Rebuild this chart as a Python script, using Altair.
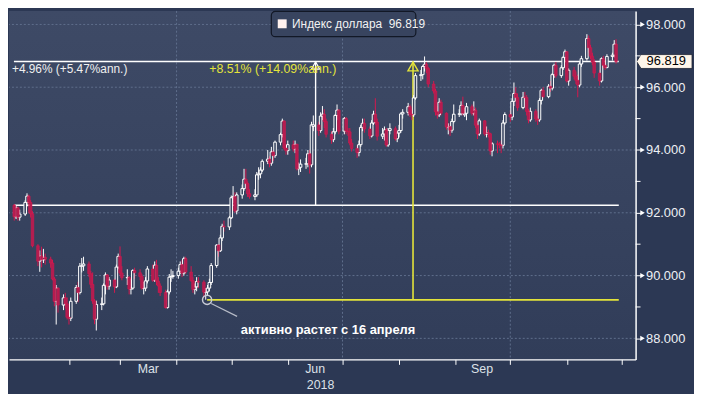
import altair as alt
import pandas as pd

# ---------------- data (US Dollar Index, daily OHLC, 2018) ----------------
opens = [
    92.24, 91.87, 92.16, 91.86, 91.96, 92.33, 92.53, 92.33, 91.97, 90.95, 90.46, 90.62, 90.50, 90.58, 90.52, 90.40, 89.89, 89.18, 89.60, 89.06, 89.29, 89.10,  # Jan
    88.67, 88.64, 89.18, 89.62, 89.46, 90.30, 90.31, 90.37, 90.06, 89.72, 89.19, 88.61, 89.08, 89.10, 89.69, 90.02, 89.66, 89.86, 89.64, 90.27,  # Feb
    90.61, 90.08, 89.93, 89.94, 89.57, 89.60, 90.16, 90.09, 89.97, 89.60, 89.60, 89.83, 90.21, 89.85, 90.33, 89.82, 89.67, 89.46, 88.98, 89.48, 89.95, 89.97,  # Mar
    90.00, 90.14, 90.35, 90.08, 90.54, 90.11, 89.84, 89.56, 89.64, 89.81, 89.79, 89.47, 89.48, 89.60, 89.78, 90.32, 90.97, 90.79, 91.20, 91.57, 91.55,  # Apr
    91.84, 92.48, 92.52, 92.06, 92.57, 92.77, 93.07, 92.93, 92.61, 92.52, 92.57, 93.21, 93.24, 93.36, 93.64, 93.71, 93.58, 93.94, 93.82, 94.25, 94.49, 94.92, 94.06,  # May
    93.98, 94.17, 94.03, 94.18, 93.40, 93.45, 93.55, 93.56, 93.88, 93.53, 94.75, 94.80, 94.62, 95.08, 95.14, 94.91, 94.50, 94.33, 94.58, 95.10, 95.27,  # Jun
    94.60, 95.00, 94.60, 94.58, 94.22, 94.05, 93.92, 94.17, 94.72, 94.85, 94.67, 94.45, 94.86, 95.14, 94.89, 94.44, 94.51, 94.64, 94.16, 94.62, 94.68, 94.36,  # Jul
    94.54, 94.62, 95.15, 95.20, 95.38, 95.14, 95.12, 95.66, 96.37, 96.40, 96.66, 96.73, 96.60, 96.10, 95.88, 95.22, 95.12, 95.52, 95.17, 94.73, 94.75, 94.63, 94.91,  # Aug
    95.14, 95.15, 95.42, 95.12, 95.17, 95.38, 95.17, 95.27, 94.79, 94.51, 94.93, 94.51, 94.55, 94.52, 93.97, 94.20, 94.18, 94.16, 94.15, 94.86,  # Sep
    95.13, 95.05, 95.55, 95.80, 95.67, 95.35, 95.68, 95.67, 95.23, 94.96, 95.23, 94.99, 94.96, 95.58, 95.90, 95.70, 96.03, 95.97, 96.40, 96.70, 96.37, 96.62, 96.95,  # Oct
    97.13, 96.20, 96.54, 96.35, 96.22, 96.07, 96.74, 96.91, 97.55, 97.26, 96.99, 96.80, 96.45, 96.20, 96.91, 96.70, 96.63, 96.98, 97.02, 97.37,  # Nov
]
highs = [
    92.28, 92.25, 92.20, 92.10, 92.40, 92.62, 92.58, 92.40, 92.05, 91.00, 90.80, 90.92, 90.85, 90.70, 90.60, 90.50, 89.95, 89.70, 89.62, 89.40, 89.45, 89.30,
    88.95, 89.30, 89.70, 89.80, 90.40, 90.56, 90.60, 90.45, 90.15, 90.10, 89.25, 89.20, 89.30, 89.75, 90.10, 90.05, 89.95, 89.90, 90.35, 90.70,
    90.93, 90.30, 90.20, 89.98, 89.90, 90.20, 90.25, 90.20, 90.05, 89.80, 89.95, 90.30, 90.35, 90.45, 90.50, 89.95, 89.75, 89.55, 89.55, 90.05, 90.20, 90.15,
    90.25, 90.45, 90.50, 90.60, 90.60, 90.30, 89.95, 89.75, 89.95, 89.95, 89.85, 89.60, 89.70, 89.90, 90.40, 91.00, 91.00, 91.30, 91.65, 91.75, 91.90,
    92.55, 92.85, 92.65, 92.65, 92.90, 93.40, 93.40, 93.00, 92.75, 92.75, 93.30, 93.45, 93.45, 93.70, 94.00, 93.80, 94.10, 94.00, 94.30, 94.55, 95.00, 94.95, 94.20,
    94.30, 94.30, 94.30, 94.20, 93.60, 93.70, 93.75, 94.00, 94.00, 94.90, 95.10, 94.90, 95.20, 95.40, 95.30, 95.00, 94.60, 94.70, 95.15, 95.45, 95.30,
    95.05, 95.05, 94.70, 94.70, 94.35, 94.15, 94.30, 94.80, 95.00, 95.00, 94.75, 94.95, 95.25, 95.65, 95.00, 94.70, 94.75, 94.70, 94.70, 94.85, 94.75, 94.60,
    94.80, 95.20, 95.30, 95.50, 95.45, 95.30, 95.75, 96.45, 96.55, 96.70, 96.98, 96.80, 96.65, 96.20, 95.95, 95.40, 95.65, 95.60, 95.20, 94.85, 94.85, 95.00, 95.45,
    95.30, 95.55, 95.70, 95.35, 95.50, 95.45, 95.55, 95.35, 94.85, 95.00, 94.95, 94.75, 94.65, 94.55, 94.25, 94.30, 94.25, 94.30, 94.95, 95.20,
    95.25, 95.65, 96.15, 96.00, 95.80, 95.85, 95.85, 95.75, 95.30, 95.35, 95.30, 95.10, 95.65, 95.95, 96.00, 96.10, 96.20, 96.45, 96.75, 96.80, 96.70, 97.00, 97.20,
    97.15, 96.60, 96.65, 96.50, 96.40, 96.80, 97.00, 97.69, 97.65, 97.35, 97.10, 96.90, 96.55, 96.95, 97.00, 96.85, 97.05, 97.10, 97.50, 97.53,
]
lows = [
    91.75, 91.80, 91.75, 91.75, 91.90, 92.20, 92.00, 91.85, 90.90, 90.30, 90.12, 90.26, 90.40, 90.35, 90.25, 89.85, 89.02, 88.44, 88.82, 88.90, 88.95, 88.60,
    88.44, 88.55, 89.10, 89.15, 89.40, 90.10, 90.15, 89.95, 89.60, 89.10, 88.45, 88.25, 88.90, 89.05, 89.40, 89.55, 89.55, 89.45, 89.60, 90.20,
    90.00, 89.85, 89.70, 89.40, 89.40, 89.55, 89.90, 89.85, 89.55, 89.40, 89.50, 89.75, 89.80, 89.80, 89.70, 89.45, 89.35, 88.95, 88.95, 89.40, 89.80, 89.90,
    89.90, 90.05, 89.95, 90.00, 90.05, 89.80, 89.45, 89.40, 89.50, 89.60, 89.30, 89.23, 89.35, 89.50, 89.70, 90.25, 90.60, 90.75, 91.10, 91.40, 91.45,
    91.80, 92.30, 92.00, 91.95, 92.45, 92.70, 92.85, 92.50, 92.45, 92.40, 92.50, 93.05, 93.10, 93.30, 93.55, 93.45, 93.50, 93.65, 93.75, 94.15, 94.40, 94.00, 93.85,
    93.85, 93.95, 93.90, 93.35, 93.20, 93.30, 93.40, 93.45, 93.25, 93.45, 94.60, 94.45, 94.55, 94.95, 94.70, 94.40, 94.20, 94.25, 94.50, 94.95, 94.50,
    94.50, 94.50, 94.45, 94.15, 93.95, 93.75, 93.80, 94.10, 94.60, 94.55, 94.35, 94.40, 94.80, 94.80, 94.30, 94.35, 94.30, 94.10, 94.10, 94.50, 94.30, 94.25,
    94.40, 94.55, 95.00, 95.10, 95.05, 94.95, 95.05, 95.60, 96.20, 96.25, 96.50, 96.45, 96.00, 95.80, 95.10, 95.00, 95.05, 95.10, 94.65, 94.50, 94.45, 94.55, 94.85,
    95.05, 95.10, 95.10, 95.05, 94.95, 95.10, 95.10, 94.70, 94.35, 94.45, 94.45, 94.40, 94.40, 93.85, 93.80, 93.90, 94.05, 93.90, 94.05, 94.80,
    94.90, 94.95, 95.40, 95.55, 95.25, 95.30, 95.55, 95.10, 94.85, 94.90, 94.90, 94.80, 94.90, 95.45, 95.65, 95.65, 95.85, 95.90, 96.30, 96.30, 96.30, 96.55, 96.80,
    96.15, 96.05, 96.25, 96.10, 95.68, 96.00, 96.65, 96.85, 97.10, 96.90, 96.70, 96.30, 96.05, 96.15, 96.60, 96.55, 96.60, 96.85, 96.95, 96.75,
]
closes = [
    91.87, 92.16, 91.86, 91.96, 92.33, 92.53, 92.33, 91.97, 90.95, 90.46, 90.62, 90.50, 90.58, 90.52, 90.40, 89.89, 89.18, 89.60, 89.06, 89.29, 89.10, 88.67,
    88.64, 89.18, 89.62, 89.46, 90.30, 90.31, 90.37, 90.06, 89.72, 89.19, 88.61, 89.08, 89.10, 89.69, 90.02, 89.66, 89.86, 89.64, 90.27, 90.61,
    90.08, 89.93, 89.94, 89.57, 89.60, 90.16, 90.09, 89.97, 89.60, 89.60, 89.83, 90.21, 89.85, 90.33, 89.82, 89.67, 89.46, 88.98, 89.48, 89.95, 89.97, 90.00,
    90.14, 90.35, 90.08, 90.54, 90.11, 89.84, 89.56, 89.64, 89.81, 89.79, 89.47, 89.48, 89.60, 89.78, 90.32, 90.97, 90.79, 91.20, 91.57, 91.55, 91.84,
    92.48, 92.52, 92.06, 92.57, 92.77, 93.07, 92.93, 92.61, 92.52, 92.57, 93.21, 93.24, 93.36, 93.64, 93.71, 93.58, 93.94, 93.82, 94.25, 94.49, 94.92, 94.06, 93.98,
    94.17, 94.03, 94.18, 93.40, 93.45, 93.55, 93.56, 93.88, 93.53, 94.80, 94.80, 94.62, 95.08, 95.14, 94.91, 94.50, 94.33, 94.58, 95.10, 95.27, 94.60,
    95.00, 94.60, 94.58, 94.22, 94.05, 93.92, 94.17, 94.72, 94.85, 94.67, 94.45, 94.86, 95.14, 94.89, 94.44, 94.51, 94.64, 94.16, 94.62, 94.68, 94.36, 94.54,
    94.62, 95.15, 95.20, 95.38, 95.14, 95.12, 95.66, 96.37, 96.40, 96.66, 96.73, 96.60, 96.10, 95.88, 95.22, 95.12, 95.52, 95.17, 94.73, 94.75, 94.63, 94.91, 95.14,
    95.15, 95.42, 95.17, 95.17, 95.38, 95.17, 95.27, 94.79, 94.51, 94.93, 94.51, 94.55, 94.52, 93.97, 94.20, 94.18, 94.16, 94.15, 94.86, 95.13,
    95.05, 95.55, 95.80, 95.67, 95.35, 95.68, 95.67, 95.23, 94.96, 95.23, 94.99, 94.96, 95.58, 95.90, 95.70, 96.03, 95.97, 96.40, 96.70, 96.37, 96.62, 96.95, 97.13,
    96.20, 96.54, 96.35, 96.22, 96.07, 96.74, 96.91, 97.55, 97.26, 96.99, 96.80, 96.45, 96.20, 96.91, 96.70, 96.63, 96.98, 97.02, 97.37, 96.819,
]

last_value = 96.819
start_level = 92.24
april_low = 89.226
y_ticks = [88, 90, 92, 94, 96, 98]
y_minor = [89, 91, 93, 95, 97]
month_labels = ["Mar", "Jun", "Sep"]
month_label_dates = ["2018-03-16T12:00:00Z", "2018-06-16T00:00:00Z", "2018-09-15T12:00:00Z"]
year_label = ["2018"]
year_label_date = ["2018-06-19T00:00:00Z"]
quarter_dates = ["2018-04-01T00:00:00Z", "2018-07-01T00:00:00Z", "2018-10-01T00:00:00Z"]
legend_text = ["Индекс доллара\u00a0 96.819"]
white_measure_text = ["+4.96% (+5.47%ann.)"]
yellow_measure_text = ["+8.51% (+14.09%ann.)"]
note_text = ["активно растет с 16 апреля"]

# ---------------- layout ----------------
W, H = 633, 352
FONT = "Liberation Sans"
BG_OUT = "#2c3854"
GRID = "#5f6e8c"
YELLOW = "#e4e43a"
RED_FILL = "#b31d50"
RED_LINE = "#d4184e"

dates = pd.bdate_range("2018-01-02", "2018-11-28")
n = min(len(dates), len(opens), len(highs), len(lows), len(closes))
df = pd.DataFrame({
    "date": dates[:n].strftime("%Y-%m-%dT00:00:00Z"),
    "o": opens[:n], "h": highs[:n], "l": lows[:n], "c": closes[:n],
})
up = df[df["c"] >= df["o"]]
dn = df[df["c"] < df["o"]]


def ms(s):
    return int(pd.Timestamp(s).value // 10**6)


DOM0 = "2018-01-01T20:00:00Z"
xscale = alt.Scale(type="utc", domain=[ms(DOM0), ms("2018-12-06T00:00:00Z")], nice=False)
yscale = alt.Scale(domain=[87.33, 98.43], zero=False, nice=False)
month_ticks = [ms(f"2018-{m:02d}-01T00:00:00Z") for m in range(2, 13)]

xaxis = alt.Axis(values=month_ticks, labels=False, ticks=True, tickColor="#ffffff",
                 tickSize=5, tickWidth=1, domainColor="#ffffff", domainWidth=1.5,
                 grid=False, title=None, zindex=2)
yaxis = alt.Axis(orient="right", values=y_ticks, format=".3f", labelFont=FONT,
                 labelFontSize=13, labelColor="#eef0f4", tickColor="#ffffff",
                 tickSize=5, tickWidth=1, labelPadding=5, domainColor="#ffffff",
                 domainWidth=1.5, grid=False, title=None, zindex=2)


def X(f):
    return alt.X(f"{f}:T", scale=xscale, axis=xaxis, title=None)


def Y(f):
    return alt.Y(f"{f}:Q", scale=yscale, axis=yaxis, title=None)


one = pd.DataFrame({"k": [0]})

bg = alt.Chart(one).mark_rect(
    fill=alt.Gradient(gradient="linear", x1=0, x2=0, y1=0, y2=1,
                      stops=[alt.GradientStop(color="#3e4a66", offset=0),
                             alt.GradientStop(color="#313d59", offset=1)])
).encode(x=alt.value(0), x2=alt.value(W), y=alt.value(0), y2=alt.value(H))

qgrid = alt.Chart(pd.DataFrame({"d": quarter_dates})).mark_rule(
    color=GRID, strokeDash=[2, 2], strokeWidth=1).encode(x=X("d"))
ygrid = alt.Chart(pd.DataFrame({"v": y_ticks})).mark_rule(
    color=GRID, strokeDash=[2, 2], strokeWidth=1).encode(y=Y("v"))

hlines = alt.Chart(pd.DataFrame({
    "x0": [DOM0, DOM0], "x1": ["2018-11-29T12:00:00Z"] * 2, "v": [start_level, last_value]
})).mark_rule(color="#ffffff", strokeWidth=1.4).encode(x=X("x0"), x2=alt.X2("x1"), y=Y("v"))

yline = alt.Chart(pd.DataFrame({
    "x0": ["2018-04-17T18:00:00Z"], "x1": ["2018-11-29T12:00:00Z"], "v": [april_low]
})).mark_rule(color=YELLOW, strokeWidth=1.6).encode(x=X("x0"), x2=alt.X2("x1"), y=Y("v"))

wvert = alt.Chart(pd.DataFrame({
    "d": ["2018-06-16T06:00:00Z"], "v0": [start_level], "v1": [last_value]
})).mark_rule(color="#ffffff", strokeWidth=1.4).encode(x=X("d"), y=Y("v0"), y2=alt.Y2("v1"))

yvert = alt.Chart(pd.DataFrame({
    "d": ["2018-08-08T16:00:00Z"], "v0": [april_low], "v1": [last_value]
})).mark_rule(color=YELLOW, strokeWidth=1.6).encode(x=X("d"), y=Y("v0"), y2=alt.Y2("v1"))

wick_up = alt.Chart(up).mark_rule(color="#ffffff", strokeWidth=1, clip=True).encode(
    x=X("date"), y=Y("l"), y2=alt.Y2("h"))
wick_dn = alt.Chart(dn).mark_rule(color=RED_LINE, strokeWidth=1, clip=True).encode(
    x=X("date"), y=Y("l"), y2=alt.Y2("h"))

body_up = alt.Chart(up).mark_bar(width=2.6, fill="#38445f", stroke="#ffffff",
                                 strokeWidth=1, clip=True).encode(
    x=X("date"), y=Y("o"), y2=alt.Y2("c"))
body_dn = alt.Chart(dn).mark_bar(width=2.6, fill=RED_FILL, stroke=RED_LINE,
                                 strokeWidth=0.6, clip=True).encode(
    x=X("date"), y=Y("o"), y2=alt.Y2("c"))

tri_w = alt.Chart(pd.DataFrame({"d": ["2018-06-16T06:00:00Z"], "v": [last_value]})).mark_point(
    shape="triangle-up", filled=False, color="#ffffff", size=70, strokeWidth=1.2, yOffset=4,
    opacity=1).encode(x=X("d"), y=Y("v"))
tri_y = alt.Chart(pd.DataFrame({"d": ["2018-08-08T16:00:00Z"], "v": [last_value]})).mark_point(
    shape="triangle-up", filled=False, color=YELLOW, size=105, strokeWidth=1.4, yOffset=5,
    opacity=1).encode(x=X("d"), y=Y("v"))

circ = alt.Chart(pd.DataFrame({"d": ["2018-04-17T18:00:00Z"], "v": [april_low]})).mark_point(
    shape="circle", filled=False, color="#c9ccd6", size=85, strokeWidth=1.5, opacity=1
).encode(x=X("d"), y=Y("v"))

conn = alt.Chart(pd.DataFrame({
    "x0": ["2018-04-19T23:00:00Z"], "x1": ["2018-05-04T05:00:00Z"], "y0": [89.11], "y1": [88.70]
})).mark_rule(color="#b8bcc8", strokeWidth=1.2).encode(
    x=X("x0"), x2=alt.X2("x1"), y=Y("y0"), y2=alt.Y2("y1"))

note = alt.Chart(pd.DataFrame({"d": ["2018-05-06T06:00:00Z"], "v": [88.25], "t": note_text})).mark_text(
    align="left", baseline="middle", font=FONT, fontSize=13, fontWeight="bold", color="#ffffff"
).encode(x=X("d"), y=Y("v"), text="t:N")

wtext = alt.Chart(pd.DataFrame({"v": [96.57], "t": white_measure_text})).mark_text(
    align="left", baseline="middle", font=FONT, fontSize=12, color="#f0f0f0"
).encode(x=alt.value(3), y=Y("v"), text="t:N")

ytext = alt.Chart(pd.DataFrame({"d": ["2018-04-18T22:00:00Z"], "v": [96.57], "t": yellow_measure_text})).mark_text(
    align="left", baseline="middle", font=FONT, fontSize=12.5, color=YELLOW
).encode(x=X("d"), y=Y("v"), text="t:N")

leg_box = alt.Chart(one).mark_rect(fill="#38445f", stroke="#121826", strokeWidth=1.2,
                                   cornerRadius=4).encode(
    x=alt.value(265), x2=alt.value(411), y=alt.value(0.5), y2=alt.value(26))
leg_sq = alt.Chart(one).mark_square(size=81, color="#fff1ee", opacity=1).encode(
    x=alt.value(276), y=alt.value(13))
leg_txt = alt.Chart(pd.DataFrame({"t": legend_text})).mark_text(
    align="left", baseline="middle", font=FONT, fontSize=12, color="#f2f2f2"
).encode(x=alt.value(286), y=alt.value(13.5), text="t:N")

box_path = "M -1 0 L -0.84 -0.25 L 1 -0.25 L 1 0.25 L -0.84 0.25 Z"
pbox = alt.Chart(pd.DataFrame({"v": [last_value]})).mark_point(
    shape=box_path, size=56 * 56, filled=True, fill="#fff6ea", stroke="#1a2030",
    strokeWidth=0.8, opacity=1).encode(x=alt.value(W + 29), y=Y("v"))
ptxt = alt.Chart(pd.DataFrame({"v": [last_value], "t": [f"{last_value:.3f}"]})).mark_text(
    align="center", baseline="middle", font=FONT, fontSize=13, color="#000000"
).encode(x=alt.value(W + 31), y=Y("v"), text="t:N")

ytri = alt.Chart(pd.DataFrame({"v": y_ticks})).mark_point(
    shape="triangle-right", filled=True, color="#ffffff", size=28, opacity=1
).encode(x=alt.value(W + 7), y=Y("v"))
yminor = alt.Chart(pd.DataFrame({"v": y_minor})).mark_rule(color="#ffffff", strokeWidth=1).encode(
    x=alt.value(W), x2=alt.value(W + 5), y=Y("v"))

mlab = alt.Chart(pd.DataFrame({"d": month_label_dates, "t": month_labels})).mark_text(
    align="center", baseline="middle", font=FONT, fontSize=12.5, color="#dde1e8"
).encode(x=X("d"), y=alt.value(H + 10), text="t:N")
ylab = alt.Chart(pd.DataFrame({"d": year_label_date, "t": year_label})).mark_text(
    align="center", baseline="middle", font=FONT, fontSize=12.5, color="#dde1e8"
).encode(x=X("d"), y=alt.value(H + 26), text="t:N")

chart = alt.layer(
    bg, qgrid, ygrid, hlines, yline, wvert, yvert, wick_up, wick_dn, body_up, body_dn,
    tri_w, tri_y, circ, conn, note, wtext, ytext, leg_box, leg_sq, leg_txt,
    pbox, ptxt, ytri, yminor, mlab, ylab
).properties(width=W, height=H, padding=0, background=BG_OUT).configure_view(stroke=None)

chart.save("out.html", embed_options={"renderer": "svg", "actions": False})
